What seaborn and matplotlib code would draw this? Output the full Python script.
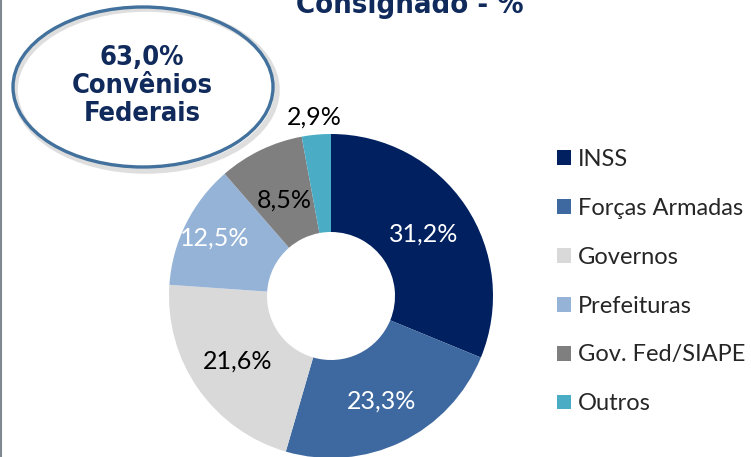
import numpy as np
import matplotlib
matplotlib.use("Agg")
import matplotlib.pyplot as plt
from matplotlib.patches import Ellipse
from matplotlib.lines import Line2D
import seaborn as sns

sns.set_theme(style="white")
plt.rcParams['font.family'] = ['Lato', 'DejaVu Sans']

# data
categorias = ["INSS", "Forças Armadas", "Governos", "Prefeituras", "Gov. Fed/SIAPE", "Outros"]
valores = [31.2, 23.3, 21.6, 12.5, 8.5, 2.9]
rotulos = ["31,2%", "23,3%", "21,6%", "12,5%", "8,5%", "2,9%"]
titulo = "Consignado - %"
destaque = "63,0%\nConvênios\nFederais"

# styles
cores = sns.color_palette(["#002060", "#3E69A0", "#D9D9D9", "#95B3D7", "#7F7F7F", "#4BACC6"])
cor_texto = ["white", "white", "black", "white", "black", "black"]
dist_rotulo = [0.69, 0.72, 0.70, 0.80, 0.66, 1.11]
navy = "#102A5C"

W, H = 751, 457
fig = plt.figure(figsize=(W / 100, H / 100), dpi=100)
ax = fig.add_axes([0, 0, 1, 1])

cx, cy, R = 331, H - 296, 162
wedges, _ = ax.pie(valores, colors=cores, startangle=90, counterclock=False,
                   center=(cx, cy), radius=R,
                   wedgeprops=dict(width=R - 64, edgecolor="none"))

for w, txt, c, d in zip(wedges, rotulos, cor_texto, dist_rotulo):
    ang = np.deg2rad((w.theta1 + w.theta2) / 2)
    ax.text(cx + d * R * np.cos(ang), cy + d * R * np.sin(ang), txt,
            ha="center", va="center", fontsize=18, color=c)

ax.set_xlim(0, W)
ax.set_ylim(0, H)
ax.set_aspect("equal")
ax.axis("off")

# highlight ellipse
ax.add_patch(Ellipse((146, H - 90), 262, 162, fill=False, edgecolor="#BFBFBF",
                     lw=4, alpha=0.5))
ax.add_patch(Ellipse((143, H - 87), 260, 160, fill=False, edgecolor="#41719C", lw=2.4))
ax.text(142, H - 86, destaque, ha="center", va="center", fontsize=19.5,
        fontweight="bold", fontstretch="condensed", color=navy,
        family="DejaVu Sans", linespacing=1.1)

# title (cut at the top of the picture)
ax.text(410, H - 13, titulo, ha="center", va="baseline", fontsize=21,
        fontweight="bold", fontstretch="condensed", color=navy, family="DejaVu Sans")

leg = ax.legend(wedges, categorias, loc="upper left",
                bbox_to_anchor=(557 / W, 1 - 149 / H), frameon=False,
                fontsize=17, borderpad=0, borderaxespad=0,
                handlelength=0.59, handleheight=0.59,
                handletextpad=0.28, labelspacing=1.18)
for t in leg.get_texts():
    t.set_color("#262626")

fig.add_artist(Line2D([0.7 / W, 0.7 / W], [0, 1], color="#7F8791", lw=1.5))

fig.savefig("out.png", dpi=100)
